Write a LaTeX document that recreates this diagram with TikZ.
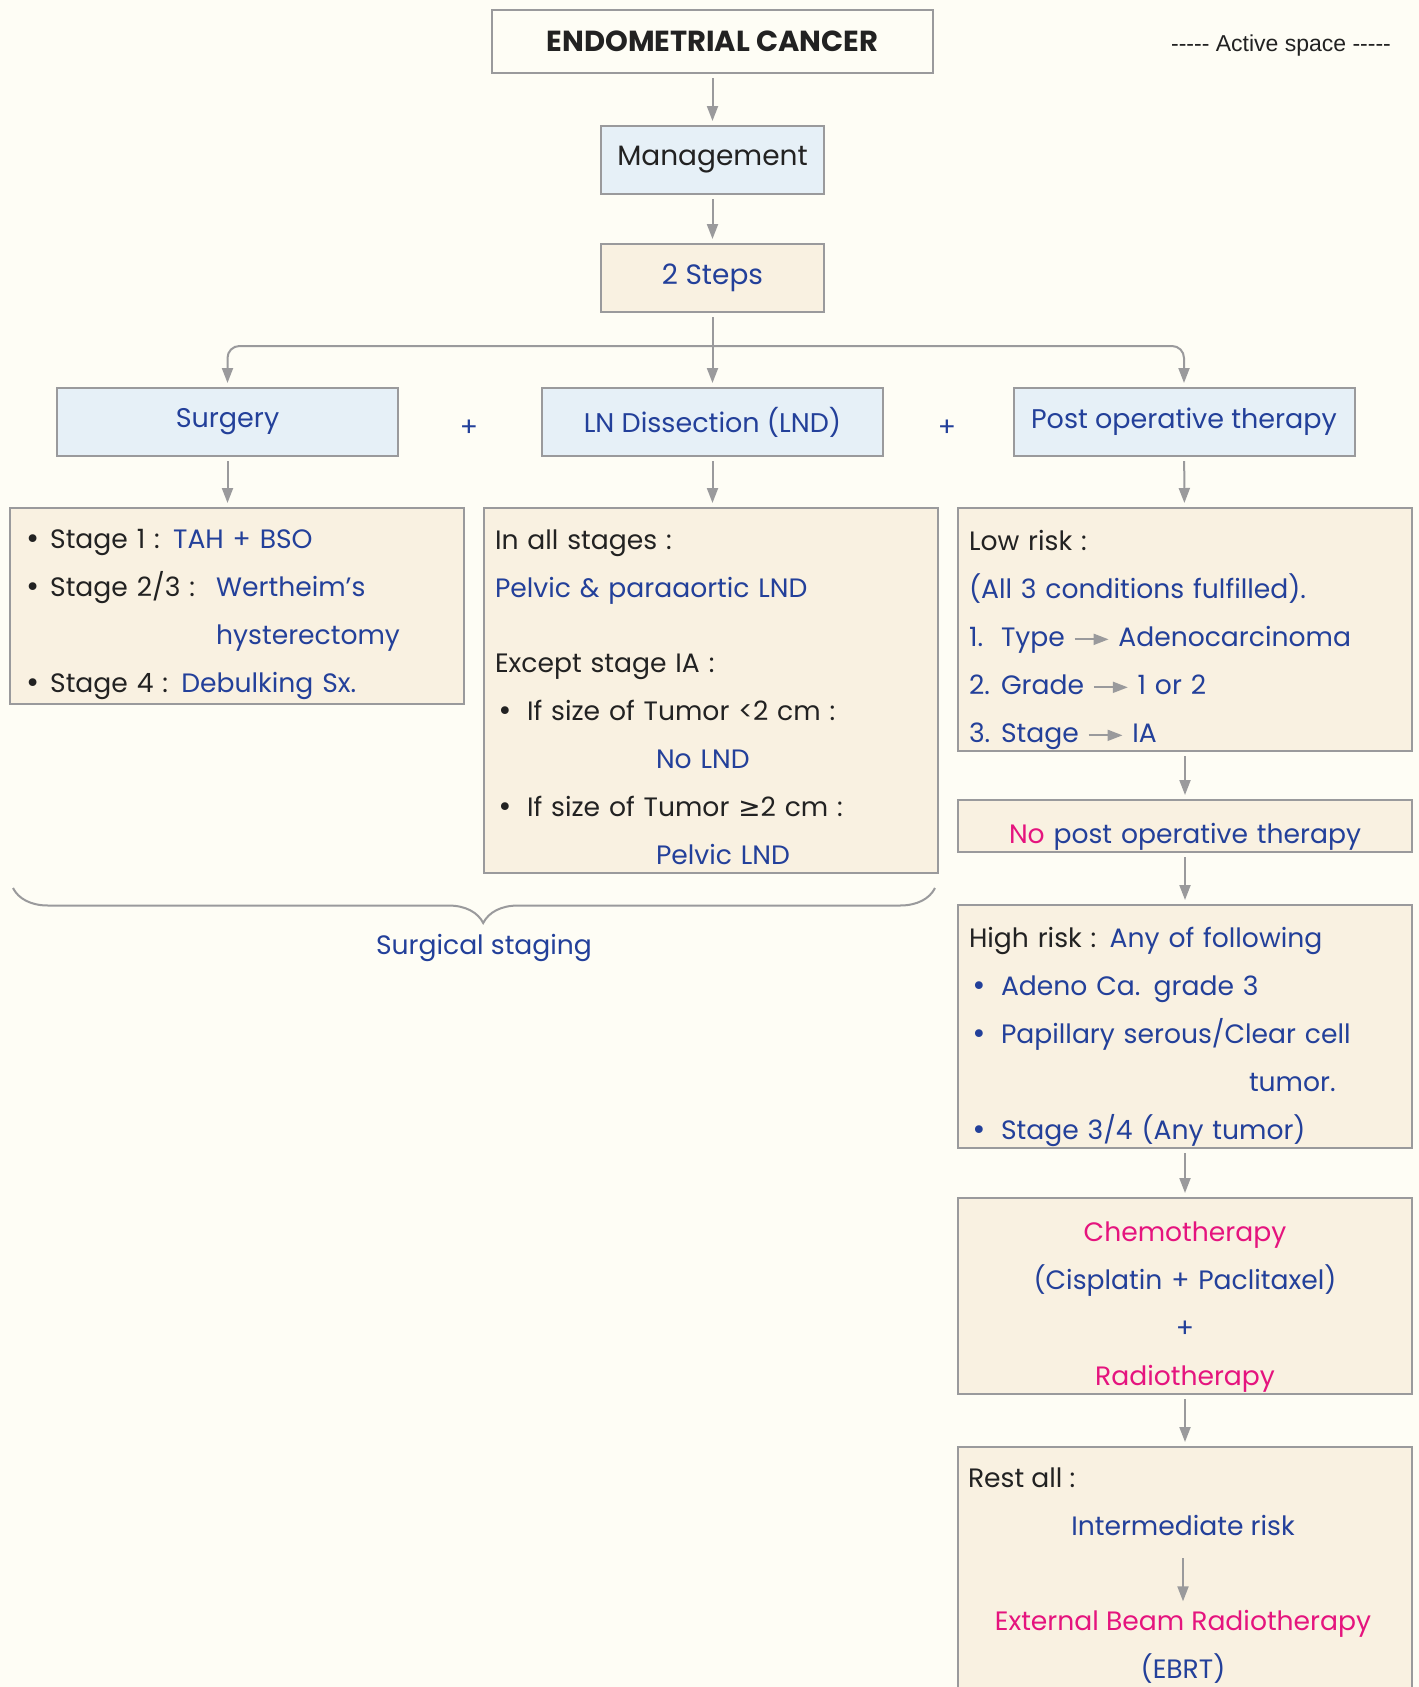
\documentclass[tikz,border=0pt]{standalone}
\usepackage{fontspec}
\setmainfont{Poppins}
\newfontfamily\symfont{DejaVu Sans}
\newfontfamily\labelfont{Liberation Sans}
\usetikzlibrary{positioning,arrows.meta,decorations.pathreplacing}

\definecolor{bgcream}{HTML}{FEFDF5}
\definecolor{boxblue}{HTML}{E6F0F7}
\definecolor{boxtan}{HTML}{F9F1E1}
\definecolor{linegray}{HTML}{9A9A9C}
\definecolor{inkblue}{HTML}{23409A}
\definecolor{inkpink}{HTML}{E5147E}
\definecolor{inkdark}{HTML}{222222}

\newcommand{\inkb}[1]{\textcolor{inkblue}{#1}}
\newcommand{\inkp}[1]{\textcolor{inkpink}{#1}}
\newcommand{\gto}{\tikz[baseline=-3.8pt]\draw[linegray, line width=0.9pt, -{Triangle[length=7.5pt,width=5.5pt]}] (0pt,0pt) -- (17pt,0pt);}
\newcommand{\dotb}{\makebox[12.6pt][l]{\symfont •}}
\newcommand{\topgap}[1][8.6pt]{\raisebox{#1}{\vphantom{(}}}
\newcommand{\hyf}{\mbox{-}\mbox{-}\mbox{-}\mbox{-}\mbox{-}}

\begin{document}
\begin{tikzpicture}[x=0.5pt,y=-0.5pt,
  every node/.style={font=\fontsize{13.3}{24}\selectfont, text=inkdark},
  box/.style={draw=linegray, line width=1pt, inner sep=0pt},
  headbox/.style={box, fill=bgcream, minimum width=220.5pt, minimum height=31.5pt},
  smallbox/.style={box, minimum width=111.5pt, minimum height=34pt},
  rowbox/.style={box, fill=boxblue, text=inkblue, minimum width=170.5pt, minimum height=34pt},
  detail/.style={box, fill=boxtan, anchor=north west, align=left, inner xsep=5.5pt, text width=216pt},
  conn/.style={draw=linegray, line width=1pt, -{Triangle[length=7.5pt,width=5.5pt]}, shorten <=2pt, shorten >=2pt}]

  \clip (0,0) rectangle (1419,1687);
  \fill[bgcream] (0,0) rectangle (1419,1687);

  \node[headbox, font=\fontsize{14.5}{16}\selectfont\bfseries] (title) at (712.5,41.5) {ENDOMETRIAL CANCER};
  \node[font=\labelfont\fontsize{11.5}{14}\selectfont] (active) at (1281,46) {\hyf{} Active space \hyf};

  \node[smallbox, fill=boxblue, font=\fontsize{14}{16}\selectfont] (mgmt) at (712.5,160) {Management};
  \node[smallbox, fill=boxtan, text=inkblue, font=\fontsize{14}{16}\selectfont] (steps) at (712.5,278) {2 Steps};

  \node[rowbox, font=\fontsize{13.5}{16}\selectfont] (surg) at (227.5,422) {Surgery};
  \node[rowbox, font=\fontsize{13.5}{16}\selectfont] (lnd) at (712.5,422) {LN Dissection (LND)};
  \node[rowbox, font=\fontsize{13.5}{16}\selectfont] (post) at (1184,422) {Post operative therapy};
  \node[text=inkblue] (plusa) at (469,428) {+};
  \node[text=inkblue] (plusb) at (947,428) {+};

  \coordinate (split) at (712.5,346);
  \draw[conn] (title) -- (mgmt);
  \draw[conn] (mgmt) -- (steps);
  \draw[conn, shorten <=0pt, rounded corners=6pt] (split) -| (surg.north);
  \draw[conn, shorten <=0pt, rounded corners=6pt] (split) -| (post.north);
  \draw[conn] (steps.south) -- (lnd.north);

  \node[detail, inner xsep=7.5pt, text width=212pt, minimum height=98pt] (surgdet) at (9,507) {%
    \topgap[5.9pt]\dotb Stage 1 : \inkb{TAH + BSO}\\
    \dotb\makebox[83pt][l]{Stage 2/3 :}\inkb{Wertheim's}\\
    \hspace*{95.6pt}\inkb{hysterectomy}\\
    \dotb Stage 4 : \inkb{Debulking Sx.}};

  \node[detail, minimum height=182.5pt] (lnddet) at (483,507) {%
    \topgap[4.3pt]In all stages :\\
    \inkb{Pelvic \& paraaortic LND}\\[13.5pt]
    Except stage IA :\\
    \hspace*{1pt}\makebox[15pt][l]{\symfont •}If size of Tumor <2 cm :\\
    \hspace*{80.5pt}\inkb{No LND}\\
    \hspace*{1pt}\makebox[15pt][l]{\symfont •}If size of Tumor {\symfont ≥}2 cm :\\
    \hspace*{80.5pt}\inkb{Pelvic LND}};

  \node[detail, minimum height=121.5pt] (low) at (957,507) {%
    \topgap Low risk :\\
    \inkb{(All 3 conditions fulfilled).}\\
    \inkb{\makebox[16pt][l]{1.}Type \gto{} Adenocarcinoma}\\
    \inkb{\makebox[16pt][l]{2.}Grade \gto{} 1 or 2}\\
    \inkb{\makebox[16pt][l]{3.}Stage \gto{} IA}};

  \node[detail, align=center, minimum height=26pt] (nopost) at (957,799) {%
    \topgap\inkp{No} \inkb{post operative therapy}};

  \node[detail, minimum height=121.5pt] (high) at (957,904) {%
    \topgap High risk : \inkb{Any of following}\\
    \inkb{\hspace*{1pt}\makebox[15pt][l]{\symfont •}Adeno Ca. grade 3}\\
    \inkb{\hspace*{1pt}\makebox[15pt][l]{\symfont •}Papillary serous/Clear cell}\\
    \hspace*{140pt}\inkb{tumor.}\\
    \inkb{\hspace*{1pt}\makebox[15pt][l]{\symfont •}Stage 3/4 (Any tumor)}};

  \node[detail, align=center, minimum height=98pt] (chemo) at (957,1197) {%
    \topgap\inkp{Chemotherapy}\\
    \inkb{(Cisplatin + Paclitaxel)}\\
    \inkb{+}\\
    \inkp{Radiotherapy}};

  \node[box, fill=boxtan, anchor=north west, minimum width=227pt, minimum height=140pt] (rest) at (957,1446) {};
  \node[anchor=west] (restlbl) at (961,1478) {Rest all :};
  \node[text=inkblue] (inter) at (1183,1525) {Intermediate risk};
  \node[align=center] (ebrt) at (1183,1647) {\inkp{External Beam Radiotherapy}\\\inkb{(EBRT)}};

  \draw[conn] (surg.south) -- (surg.south |- surgdet.north);
  \draw[conn] (lnd.south) -- (lnd.south |- lnddet.north);
  \draw[conn] (post) -- (low);
  \draw[conn] (low) -- (nopost);
  \draw[conn] (nopost) -- (high);
  \draw[conn] (high) -- (chemo);
  \draw[conn] (chemo) -- (rest);
  \draw[conn, shorten <=8pt, shorten >=1pt] (inter) -- (ebrt);

  \coordinate (bracer) at (935,888);
  \coordinate (bracel) at (13,888);
  \draw[linegray, line width=1pt, decorate, decoration={brace, amplitude=17.5pt, aspect=0.49}] (bracer) -- (bracel);
  \node[text=inkblue] (staging) at (484,948) {Surgical staging};
\end{tikzpicture}
\end{document}
